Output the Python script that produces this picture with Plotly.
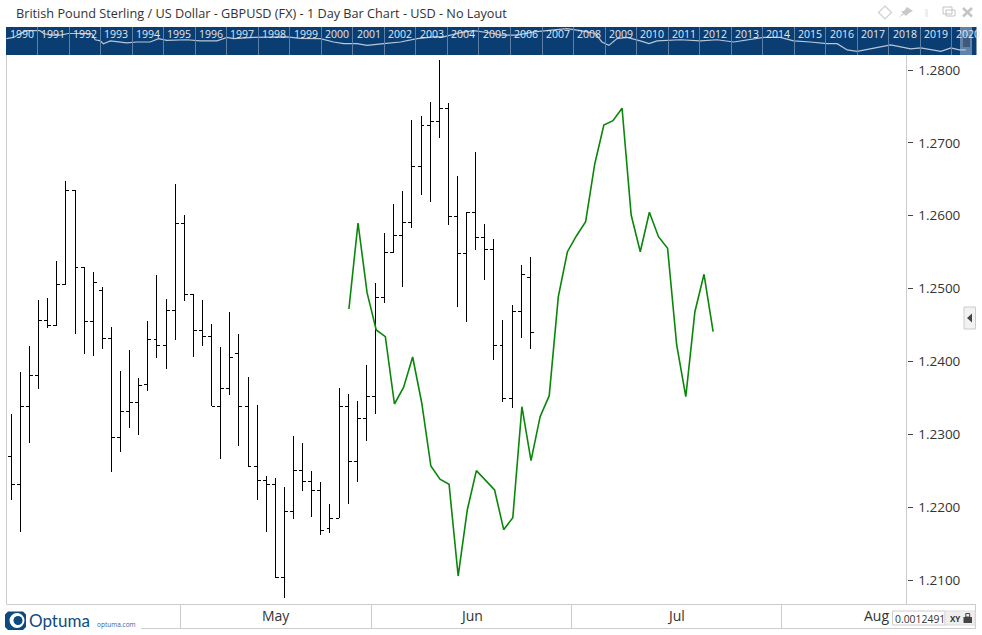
import plotly.graph_objects as go

W, H = 982, 635
FONT = "Open Sans"

# ---------- data ----------
opens = [1.22698,1.22314,1.23385,1.23810,1.24565,1.24496,1.25059,1.26349,1.25292,1.24551,
         1.24977,1.24318,1.22959,1.23316,1.23439,1.23686,1.24304,1.24222,1.24702,1.25896,
         1.24922,1.24428,1.24345,1.23385,1.23632,1.24112,1.23385,1.22561,1.22369,1.22314,
         1.21038,1.21943,1.22506,1.22355,1.22232,1.21710,1.21847,1.23385,1.22630,1.23220,
         1.23522,1.24881,1.25498,1.25722,1.25910,1.26679,1.27241,1.27296,1.27475,1.25992,
         1.25484,1.26047,1.25704,1.25539,1.24222,1.23494,1.24679,1.25155]
highs = [1.23279,1.23855,1.24212,1.24843,1.24871,1.25379,1.26477,1.26349,1.25292,1.25224,
         1.25018,1.24469,1.23869,1.24157,1.23773,1.24555,1.25187,1.24857,1.26436,1.26010,
         1.24922,1.24843,1.24514,1.24198,1.24679,1.24377,1.23787,1.23402,1.22428,1.22400,
         1.22277,1.22977,1.22881,1.22497,1.22346,1.22044,1.23636,1.23553,1.23457,1.23951,
         1.25081,1.25759,1.26161,1.26340,1.27314,1.27369,1.27561,1.28137,1.27547,1.26545,
         1.26047,1.26875,1.25887,1.25681,1.24573,1.24775,1.25324,1.25430]
lows = [1.22098,1.21663,1.22885,1.23626,1.24463,1.24496,1.25059,1.24381,1.24098,1.24079,
        1.24175,1.22487,1.22761,1.23091,1.22995,1.23599,1.24052,1.23901,1.24299,1.24834,
        1.24065,1.24216,1.23385,1.22665,1.23544,1.22844,1.22561,1.22103,1.21663,1.21038,
        1.20758,1.21842,1.22226,1.21869,1.21622,1.21650,1.21847,1.22048,1.22350,1.22912,
        1.23283,1.24798,1.25484,1.25018,1.25836,1.26289,1.26193,1.27071,1.25877,1.24752,
        1.24546,1.25530,1.25122,1.24024,1.23444,1.23365,1.24326,1.24175]
closes = [1.22314,1.23385,1.23810,1.24565,1.24496,1.25059,1.26349,1.25292,1.24551,1.25086,
          1.24318,1.22959,1.23316,1.23439,1.23673,1.24304,1.24222,1.24702,1.25896,1.24922,
          1.24428,1.24345,1.23385,1.23632,1.24057,1.23385,1.22561,1.22369,1.22314,1.21038,
          1.21943,1.22506,1.22355,1.22232,1.21683,1.21847,1.23385,1.22630,1.23220,1.23522,
          1.24881,1.25498,1.25722,1.25910,1.26679,1.27241,1.27296,1.27475,1.25992,1.25484,
          1.26047,1.25704,1.25539,1.24222,1.23494,1.24679,1.25196,1.24400]
projection = [1.24720,1.25900,1.24940,1.24432,1.24340,1.23416,1.23643,1.24061,1.23430,1.22565,
              1.22383,1.22314,1.21055,1.21961,1.22501,1.22373,1.22236,1.21691,1.21856,1.23379,
              1.22638,1.23242,1.23530,1.24889,1.25506,1.25726,1.25918,1.26710,1.27245,1.27304,
              1.27475,1.26010,1.25506,1.26047,1.25712,1.25553,1.24226,1.23516,1.24683,1.25196,
              1.24408]
projection_start = 37.08

price_ticks = [1.21, 1.22, 1.23, 1.24, 1.25, 1.26, 1.27, 1.28]
month_names = ["May", "Jun", "Jul", "Aug"]
month_bounds = [18.55, 39.55, 61.55, 84.55]
month_centres = [29.1, 50.5, 73, 95]

hist_year = [1990.01,1990.24,1990.45,1990.66,1990.87,1991.08,1991.19,1991.40,1991.72,1991.98,
             1992.35,1992.72,1992.83,1992.99,1993.09,1993.31,1993.83,1994.15,1994.57,1994.84,
             1995.10,1995.74,1996.16,1996.69,1997.01,1997.22,1997.85,1998.28,1998.91,1999.33,
             1999.97,2000.39,2000.71,2001.13,2001.45,2001.98,2002.51,2003.04,2003.56,2003.88,
             2004.41,2004.83,2005.47,2005.68,2006.21,2006.74,2007.16,2007.79,2008.22,2008.69,
             2008.90,2009.12,2009.38,2009.70,2010.12,2010.39,2010.65,2011.39,2012.02,2012.55,
             2013.08,2013.61,2014.03,2014.56,2014.98,2015.51,2016.04,2016.36,2016.68,2017.00,
             2017.42,2018.06,2018.69,2019.01,2019.65,2019.97,2020.23,2020.44]
hist_price = [1.65,1.69,1.83,1.93,1.93,1.93,1.83,1.77,1.77,1.83,
              1.83,1.83,1.61,1.57,1.47,1.57,1.50,1.53,1.53,1.65,
              1.59,1.61,1.57,1.57,1.69,1.65,1.69,1.69,1.71,1.66,
              1.65,1.53,1.47,1.47,1.41,1.47,1.53,1.65,1.71,1.71,
              1.86,1.93,1.83,1.77,1.77,1.89,1.93,2.00,1.93,1.83,
              1.53,1.41,1.65,1.69,1.57,1.47,1.57,1.61,1.57,1.61,
              1.53,1.61,1.69,1.69,1.57,1.53,1.47,1.47,1.25,1.20,
              1.29,1.43,1.29,1.32,1.20,1.32,1.25,1.25]
years = list(range(1990, 2021))

TITLE = "British Pound Sterling / US Dollar - GBPUSD (FX) - 1 Day Bar Chart - USD - No Layout"

# ---------- pixel helpers for the window chrome ----------
px = lambda v: v / W
py = lambda v: 1 - v / H
BLUE = "#0a3d72"
GRID = "#cccccc"
shapes, annos = [], []

def rect(x0, y0, x1, y1, fill=None, line=None, layer="below", lw=1):
    shapes.append(dict(type="rect", xref="paper", yref="paper", layer=layer,
                       x0=px(x0), x1=px(x1), y0=py(y0), y1=py(y1),
                       fillcolor=fill or "rgba(0,0,0,0)",
                       line=dict(color=line or "rgba(0,0,0,0)", width=lw if line else 0)))

def seg(x0, y0, x1, y1, color=GRID, lw=1):
    shapes.append(dict(type="line", xref="paper", yref="paper", layer="above",
                       x0=px(x0), x1=px(x1), y0=py(y0), y1=py(y1),
                       line=dict(color=color, width=lw)))

def poly(points, fill=None, line=None, lw=1):
    d = "M " + " L ".join(f"{px(a):.5f},{py(b):.5f}" for a, b in points) + " Z"
    shapes.append(dict(type="path", xref="paper", yref="paper", layer="above", path=d,
                       fillcolor=fill or "rgba(0,0,0,0)",
                       line=dict(color=line or "rgba(0,0,0,0)", width=lw if line else 0)))

def text(x, y, s, size=13, color="#333333", xanchor="left", family=FONT):
    annos.append(dict(xref="paper", yref="paper", x=px(x), y=py(y), text=s, showarrow=False,
                      xanchor=xanchor, yanchor="middle", font=dict(family=family, size=size, color=color)))

# ---------- traces ----------
bar_x = list(range(len(opens)))
fig = go.Figure()
fig.add_trace(go.Ohlc(x=bar_x, open=opens, high=highs, low=lows, close=closes,
                      increasing=dict(line=dict(color="#000000", width=1)),
                      decreasing=dict(line=dict(color="#000000", width=1)),
                      tickwidth=0.38, hoverinfo="skip", showlegend=False))
fig.add_trace(go.Scatter(x=[projection_start + i for i in range(len(projection))], y=projection,
                         mode="lines", line=dict(color="#0a860a", width=1.6),
                         hoverinfo="skip", showlegend=False))
fig.add_trace(go.Scatter(x=hist_year, y=hist_price, xaxis="x2", yaxis="y2", mode="lines",
                         line=dict(color="#b9c7d8", width=1.2), hoverinfo="skip", showlegend=False))

# ---------- timeline band ----------
rect(6, 27, 976.5, 55, fill=BLUE)
rect(960, 27, 972, 55, fill="#5f83aa")
rect(963, 36, 970, 47, fill="#3f5a7a")
for y in years:
    annos.append(dict(xref="x2", yref="paper", x=y + 0.5, y=py(34.5), text=str(y), showarrow=False,
                      xanchor="center", yanchor="middle",
                      font=dict(family=FONT, size=10.5, color="#e2e9f1")))

# ---------- frame ----------
seg(6.5, 55, 6.5, 604)
seg(906.5, 55, 906.5, 604)
seg(6.5, 604.5, 975.5, 604.5)
seg(141, 628.5, 975.5, 628.5)
seg(975.5, 604, 975.5, 628.5)

# title and window icons
text(13.5, 13, TITLE, size=12.7)
poly([(885, 6), (891.5, 12.5), (885, 19), (878.5, 12.5)], line="#d0d0d0", lw=1.2)
poly([(907, 7), (913, 11), (909, 13), (906, 16), (904, 14), (899, 18), (903, 13), (901, 11), (904, 11)], fill="#c8c8c8")
rect(925, 9, 928, 17, fill="#eeeeee")
rect(943, 7, 952, 14, line="#c4c4c4")
rect(946, 10, 955, 16, line="#c4c4c4")
seg(963, 8, 972, 16.5, color="#c4c4c4", lw=2.5)
seg(972, 8, 963, 16.5, color="#c4c4c4", lw=2.5)

# side tab
rect(964, 307, 975.5, 329, fill="#f2f2f2", line="#cccccc", layer="above")
poly([(972, 313.5), (967, 318), (972, 322.5)], fill="#444444")

# logo
poly([(8, 611.5), (23, 611.5), (26, 614.5), (26, 627), (23, 630), (8, 630), (5, 627), (5, 614.5)], fill="#0c4a80")
shapes.append(dict(type="circle", xref="paper", yref="paper", layer="above",
                   x0=px(9.5), x1=px(24.5), y0=py(628), y1=py(613), fillcolor="#ffffff", line=dict(width=0)))
shapes.append(dict(type="circle", xref="paper", yref="paper", layer="above",
                   x0=px(13.5), x1=px(22.5), y0=py(625), y1=py(616), fillcolor="#0c4a80", line=dict(width=0)))
text(26.5, 620.5, "Optuma", size=17, color="#0f4c82", family="Lato")
text(94.5, 624.3, "optuma.com", size=6.5, color="#3f5f8f")

# value box
rect(892.5, 611, 945, 625, fill="#ffffff", line="#cccccc", layer="above")
rect(945, 611, 975, 625, fill="#eeeeee", line="#dddddd", layer="above")
text(893, 618.5, "0.0012491", size=10.4, color="#333333")
text(948, 618, "<b>XY</b>", size=8, color="#333333")
rect(963.5, 617, 972, 623, fill="#444444", layer="above")
rect(965.8, 613.5, 969.7, 617, line="#444444", layer="above")

# month labels
for name, c in zip(month_names, month_centres):
    annos.append(dict(xref="x", yref="paper", x=c, y=py(615.2), text=name, showarrow=False,
                      xanchor="center", yanchor="middle",
                      font=dict(family=FONT, size=14, color="#333333")))

fig.update_layout(
    width=W, height=H, margin=dict(l=0, r=0, t=0, b=0, pad=0),
    paper_bgcolor="#ffffff", plot_bgcolor="#ffffff", showlegend=False,
    shapes=shapes, annotations=annos,
    xaxis=dict(domain=[px(6.5), px(906.5)], range=[-0.527, 98.32], anchor="y",
               rangeslider=dict(visible=False), showgrid=False, zeroline=False,
               showline=False, tickmode="array", tickvals=month_bounds,
               ticktext=["" for _ in month_bounds], ticks="outside", ticklen=24,
               tickcolor=GRID, tickwidth=1),
    yaxis=dict(domain=[py(604), py(55)], range=[1.20671, 1.28206], side="right", anchor="x",
               showgrid=False, zeroline=False, showline=False,
               tickmode="array", tickvals=price_ticks, tickformat=".4f",
               ticks="outside", ticklen=5, tickcolor="#444444", tickwidth=1, ticklabelstandoff=3,
               tickfont=dict(family=FONT, size=13.5, color="#333333")),
    xaxis2=dict(domain=[px(6), px(976.5)], range=[1990, 2020.78], anchor="y2",
                showgrid=False, zeroline=False, showline=False,
                tickmode="array", tickvals=years[1:], ticktext=["" for _ in years[1:]],
                ticks="inside", ticklen=28, tickcolor="#5d7fa5", tickwidth=1),
    yaxis2=dict(domain=[py(55), py(27)], range=[1.07, 2.06], anchor="x2",
                visible=False),
)

fig.write_html("out.html", include_plotlyjs=True, config=dict(displayModeBar=False),
               post_script="document.body.style.margin='0';document.body.style.overflow='hidden';"
                           "document.querySelectorAll('.ohlc path').forEach(function(p){p.style.shapeRendering='crispEdges';});")
